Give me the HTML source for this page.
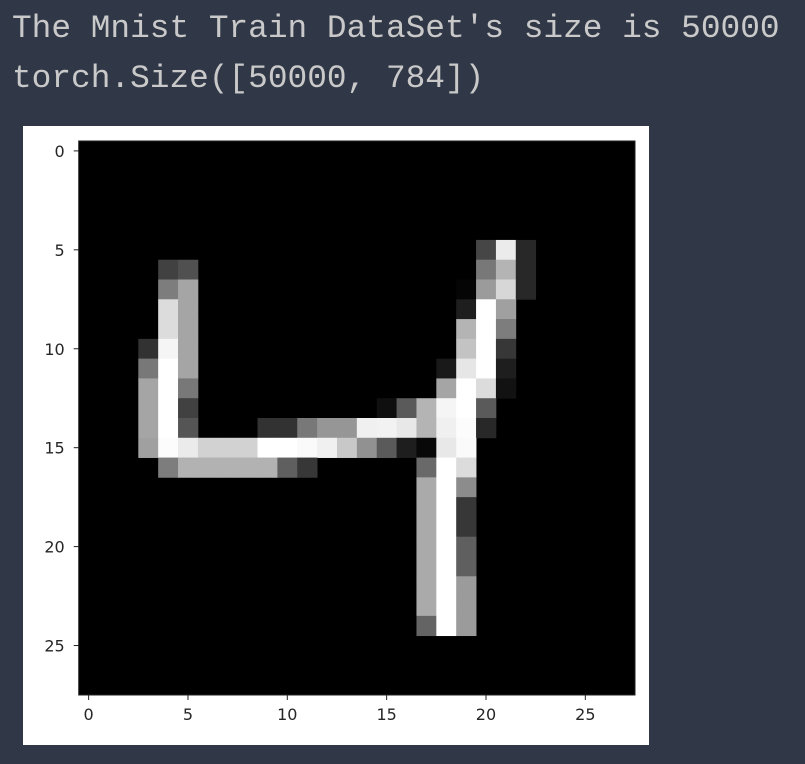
<!DOCTYPE html>
<html><head><meta charset="utf-8"><style>
html,body{margin:0;padding:0;background:#303746;width:805px;height:764px;overflow:hidden}
.out{position:absolute;left:12px;font-family:"Liberation Mono",monospace;font-size:32.8px;color:#c9c9c9;white-space:pre;line-height:1}
</style></head><body>
<div class="out" style="top:13px">The Mnist Train DataSet's size is 50000</div>
<div class="out" style="top:63px">torch.Size([50000, 784])</div>
<svg id="chart" width="805" height="764" style="position:absolute;left:0;top:0">
<rect x="23" y="126" width="626" height="619" fill="#fff"/>
<g id="cells"></g>
<g id="axes"></g>
</svg>
<script>
const nRows = 28, nCols = 28;
const tickVals = [0, 5, 10, 15, 20, 25];
const tickLabels = ["0", "5", "10", "15", "20", "25"];
// nonzero pixels: [row, col, value 0-255]
const pixRows = [5,5,5, 6,6,6,6,6, 7,7,7,7,7,7, 8,8,8,8,8, 9,9,9,9,9, 10,10,10,10,10,10, 11,11,11,11,11,11,11, 12,12,12,12,12,12,12,
13,13,13,13,13,13,13,13,13, 14,14,14,14,14,14,14,14,14,14,14,14,14,14,14, 15,15,15,15,15,15,15,15,15,15,15,15,15,15,15,15,15,
16,16,16,16,16,16,16,16,16,16,16, 17,17,17, 18,18,18, 19,19,19, 20,20,20, 21,21,21, 22,22,22, 23,23,23, 24,24,24];
const pixCols = [20,21,22, 4,5,20,21,22, 4,5,19,20,21,22, 4,5,19,20,21, 4,5,19,20,21, 3,4,5,19,20,21, 3,4,5,18,19,20,21, 3,4,5,18,19,20,21,
3,4,5,15,16,17,18,19,20, 3,4,5,9,10,11,12,13,14,15,16,17,18,19,20, 3,4,5,6,7,8,9,10,11,12,13,14,15,16,17,18,19,
4,5,6,7,8,9,10,11,17,18,19, 17,18,19, 17,18,19, 17,18,19, 17,18,19, 17,18,19, 17,18,19, 17,18,19, 17,18,19];
const pixVals = [70,235,40, 65,80,120,180,40, 125,165,5,155,215,40, 220,165,30,255,160, 220,165,180,255,125, 50,245,165,195,255,55, 120,255,165,25,230,255,30, 165,255,120,165,255,220,18,
165,255,65,15,90,180,245,255,90, 165,255,85,50,50,120,150,150,240,242,232,180,240,252,40, 160,252,235,210,210,210,255,255,250,240,200,145,90,30,8,232,250,
125,178,178,178,178,178,95,55,105,255,220, 170,255,140, 170,255,55, 170,255,55, 170,255,95, 170,255,95, 170,255,155, 170,255,155, 100,255,155];
</script>
<script>
const NS = "http://www.w3.org/2000/svg";
const X0 = 78.7, X1 = 635, Y0 = 141, Y1 = 695;
const cw = (X1 - X0) / nCols, ch = (Y1 - Y0) / nRows;
const xs = c => X0 + c * cw, ys = r => Y0 + r * ch;
const cells = document.getElementById('cells'), axes = document.getElementById('axes');
const bg = document.createElementNS(NS, 'rect');
bg.setAttribute('x', X0); bg.setAttribute('y', Y0); bg.setAttribute('width', X1 - X0); bg.setAttribute('height', Y1 - Y0); bg.setAttribute('fill', '#000');


cells.appendChild(bg);
const n = Math.min(pixRows.length, pixCols.length, pixVals.length);
for (let i = 0; i < n; i++) {
  const v = pixVals[i], r = pixRows[i], c = pixCols[i];
  const el = document.createElementNS(NS, 'rect');
  el.setAttribute('x', xs(c)); el.setAttribute('y', ys(r));
  el.setAttribute('width', cw + 0.4); el.setAttribute('height', ch + 0.4);
  el.setAttribute('fill', `rgb(${v},${v},${v})`);
  
  
  cells.appendChild(el);
}
const frame = document.createElementNS(NS, 'rect');
frame.setAttribute('x', X0); frame.setAttribute('y', Y0); frame.setAttribute('width', X1 - X0); frame.setAttribute('height', Y1 - Y0);
frame.setAttribute('fill', 'none'); frame.setAttribute('stroke', '#222'); frame.setAttribute('stroke-width', '1');


axes.appendChild(frame);
tickVals.forEach((t, i) => {
  const cx = xs(t + 0.5), cy = ys(t + 0.5);
  const xl = document.createElementNS(NS, 'line');
  xl.setAttribute('x1', cx); xl.setAttribute('x2', cx); xl.setAttribute('y1', Y1); xl.setAttribute('y2', Y1 + 5); xl.setAttribute('stroke', '#222');
  
  
  axes.appendChild(xl);
  const xt = document.createElementNS(NS, 'text');
  xt.setAttribute('x', cx); xt.setAttribute('y', Y1 + 25); xt.setAttribute('text-anchor', 'middle');
  xt.setAttribute('font-family', 'DejaVu Sans, sans-serif'); xt.setAttribute('font-size', '16'); xt.setAttribute('fill', '#262626');
  xt.textContent = tickLabels[i];
  
  
  axes.appendChild(xt);
  const yl = document.createElementNS(NS, 'line');
  yl.setAttribute('x1', X0 - 5); yl.setAttribute('x2', X0); yl.setAttribute('y1', cy); yl.setAttribute('y2', cy); yl.setAttribute('stroke', '#222');
  
  
  axes.appendChild(yl);
  const yt = document.createElementNS(NS, 'text');
  yt.setAttribute('x', X0 - 14); yt.setAttribute('y', cy + 6); yt.setAttribute('text-anchor', 'end');
  yt.setAttribute('font-family', 'DejaVu Sans, sans-serif'); yt.setAttribute('font-size', '16'); yt.setAttribute('fill', '#262626');
  yt.textContent = tickLabels[i];
  
  
  axes.appendChild(yt);
});
</script>
</body></html>
